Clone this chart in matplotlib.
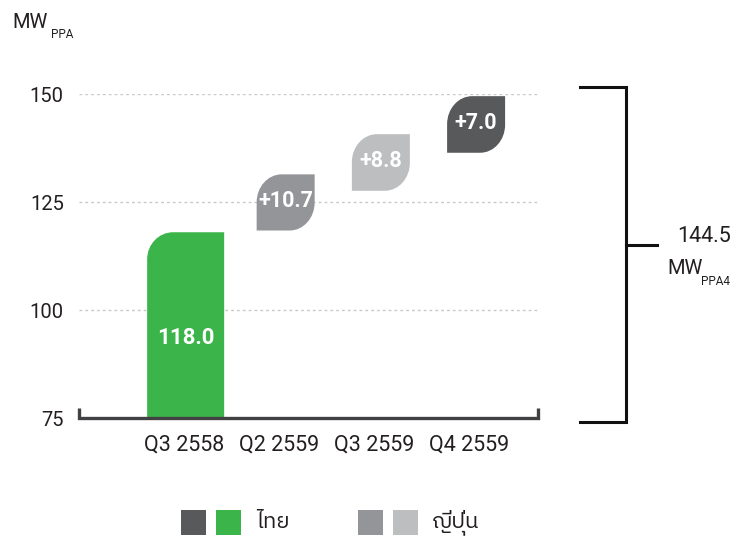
import matplotlib
matplotlib.use("Agg")
import matplotlib.pyplot as plt
from matplotlib.path import Path
from matplotlib.patches import PathPatch, Rectangle
from matplotlib.lines import Line2D
from matplotlib import font_manager
from matplotlib.ft2font import FT2Font

# ---------------- data ----------------
categories = ["Q3 2558", "Q2 2559", "Q3 2559", "Q4 2559"]
base_value = 118.0
deltas = [10.7, 8.8, 7.0]
# vertical extent of each drawn leaf (artwork is not to scale)
bar_bottoms = [75.0, 118.4, 127.6, 136.4]
bar_tops = [118.0, 131.4, 140.7, 149.5]
y_ticks = [75, 100, 125, 150]
legend_labels = ["ไทย", "ญี่ปุ่น"]
total = base_value + sum(deltas)

bar_labels = [f"{base_value:.1f}"] + [f"+{d:.1f}" for d in deltas]

# ---------------- styles ----------------
GREEN = "#3bb54a"
DARK = "#58595b"
MID = "#939598"
LIGHT = "#bcbec0"
bar_colors = [GREEN, MID, LIGHT, DARK]
legend_colors = [[DARK, GREEN], [MID, LIGHT]]
AXIS_C = "#414042"
TEXT_C = "#231f20"

FONT = "Roboto"


def find_font(ch):
    best = None
    for f in font_manager.fontManager.ttflist:
        try:
            cm = FT2Font(f.fname).get_charmap()
        except Exception:
            continue
        if ord(ch) in cm:
            if "Thai" in f.name or "Loopless" in f.name:
                return f.name
            if best is None:
                best = f.name
    return best


thai_font = find_font("ไ")
thai_family = [thai_font, "DejaVu Sans"] if thai_font else ["DejaVu Sans"]

W, H = 754, 538
fig = plt.figure(figsize=(W / 100, H / 100), dpi=100)
ax_l, ax_r, ax_t, ax_b = 79, 538, 94, 418
ax = fig.add_axes([ax_l / W, 1 - ax_b / H, (ax_r - ax_l) / W, (ax_b - ax_t) / H])
xmin, xmax = -1.1, 3.72
ymin, ymax = 75, 150
ax.set_xlim(xmin, xmax)
ax.set_ylim(ymin, ymax)
for s in ax.spines.values():
    s.set_visible(False)

px_x = (ax_r - ax_l) / (xmax - xmin)
px_y = (ax_b - ax_t) / (ymax - ymin)

# gridlines
for yv in y_ticks[1:]:
    ax.axhline(yv, color="#c9c9c9", lw=1.0, linestyle=(0, (2, 2.2)), zorder=0)

# x axis line with end ticks
ax.plot([0, 0, 1, 1], [10 / (ax_b - ax_t), 0, 0, 10 / (ax_b - ax_t)],
        transform=ax.transAxes, color=AXIS_C, lw=2.4, clip_on=False,
        solid_joinstyle="miter", solid_capstyle="butt", zorder=3)

ax.set_yticks(y_ticks)
ax.set_yticklabels([str(v) for v in y_ticks], fontfamily=FONT, fontsize=14.5, color=TEXT_C)
ax.set_xticks(range(len(categories)))
ax.set_xticklabels(categories, fontfamily=FONT, fontsize=15.5, color=TEXT_C)
ax.tick_params(axis="y", length=0, pad=11)
ax.tick_params(axis="x", length=0, pad=12)

K = 0.5523


def leaf(x0, x1, y0, y1, r_tl, r_br):
    rxa, rya = r_tl[0] / px_x, r_tl[1] / px_y
    verts = [(x0, y0), (x0, y1 - rya),
             (x0, y1 - rya + K * rya), (x0 + rxa - K * rxa, y1), (x0 + rxa, y1),
             (x1, y1)]
    codes = [Path.MOVETO, Path.LINETO, Path.CURVE4, Path.CURVE4, Path.CURVE4, Path.LINETO]
    if r_br is not None:
        rxb, ryb = r_br[0] / px_x, r_br[1] / px_y
        verts += [(x1, y0 + ryb),
                  (x1, y0 + ryb - K * ryb), (x1 - rxb + K * rxb, y0), (x1 - rxb, y0)]
        codes += [Path.LINETO, Path.CURVE4, Path.CURVE4, Path.CURVE4]
    else:
        verts += [(x1, y0)]
        codes += [Path.LINETO]
    verts += [(x0, y0)]
    codes += [Path.CLOSEPOLY]
    return Path(verts, codes)


for i, (b, t, c, lab) in enumerate(zip(bar_bottoms, bar_tops, bar_colors, bar_labels)):
    if i == 0:
        w = 77 / px_x
        cx = i + 0.02
        p = leaf(cx - w / 2, cx + w / 2, b, t, (26, 27), None)
        ty = (b + t) / 2 - 3
        fs = 16
    else:
        w = 58 / px_x
        cx = i + 0.07
        p = leaf(cx - w / 2, cx + w / 2, b, t, (25, 28), (25, 28))
        ty = (b + t) / 2 + 0.4
        fs = 15.5
    ax.add_patch(PathPatch(p, facecolor=c, edgecolor="none", zorder=2, clip_on=False))
    ax.text(cx, ty, lab, ha="center", va="center", color="white", fontsize=fs,
            fontfamily=FONT, fontweight="bold", zorder=4)


def fx(x):
    return x / W


def fy(y):
    return 1 - y / H


# y unit label
fig.text(fx(12), fy(27.7), "MW", fontfamily=FONT, fontsize=14.5, color=TEXT_C, va="baseline")
fig.text(fx(51), fy(37.5), "PPA", fontfamily=FONT, fontsize=8.5, color=TEXT_C, va="baseline")

# right bracket
fig.add_artist(Line2D([fx(580), fx(626), fx(626), fx(580)],
                      [fy(86.7), fy(86.7), fy(421.7), fy(421.7)],
                      color="#111111", lw=2.2, solid_joinstyle="miter"))
fig.add_artist(Line2D([fx(626), fx(657)], [fy(245), fy(245)], color="#111111", lw=2.2))
fig.text(fx(704.5), fy(241.5), f"{total:.1f}", fontfamily=FONT, fontsize=15.5,
         color=TEXT_C, ha="center", va="baseline")
fig.text(fx(667), fy(274), "MW", fontfamily=FONT, fontsize=14.5, color=TEXT_C, va="baseline")
fig.text(fx(701), fy(285), "PPA4", fontfamily=FONT, fontsize=8.5, color=TEXT_C, va="baseline")

# legend
sq = 25
groups = [(181, 256.5), (358, 431.5)]
for (gx, tx), cols, lab in zip(groups, legend_colors, legend_labels):
    for j, c in enumerate(cols):
        fig.add_artist(Rectangle((fx(gx + j * 35), fy(535)), sq / W, sq / H,
                                 transform=fig.transFigure, facecolor=c, edgecolor="none"))
    fig.text(fx(tx), fy(522.5), lab, family=thai_family, fontsize=16, color=TEXT_C,
             va="center", ha="left")

fig.savefig("out.png", dpi=100)
